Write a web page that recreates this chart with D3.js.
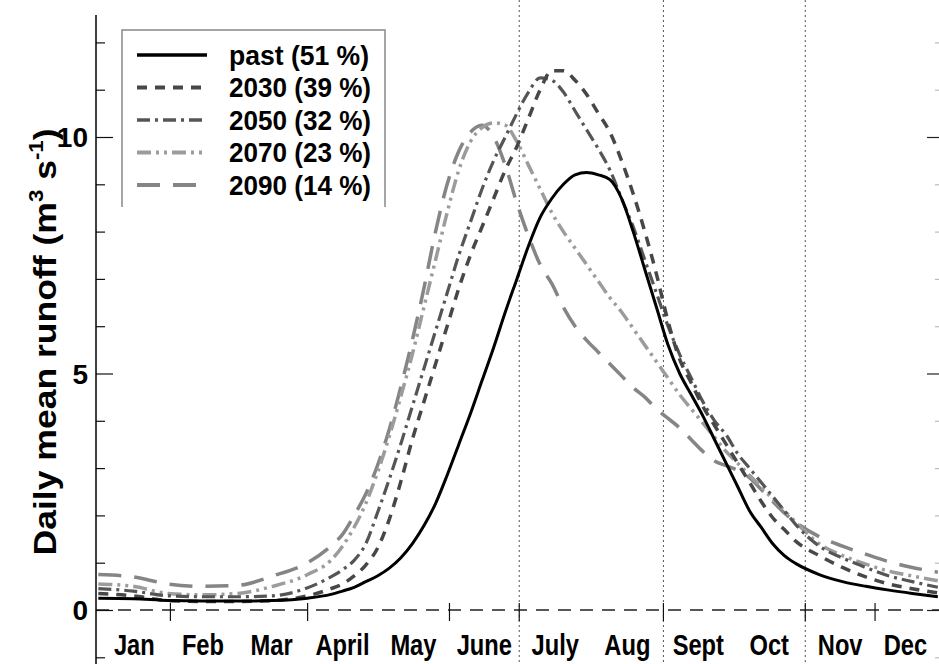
<!DOCTYPE html>
<html>
<head>
<meta charset="utf-8">
<script src="https://cdn.jsdelivr.net/npm/d3@7"></script>
<style>
body { margin: 0; background: #fff; }
text { font-family: "Liberation Sans", Arial, sans-serif; font-weight: bold; fill: #000; }
</style>
</head>
<body>
<script>
// day of year for every sample
var days = [0,15,30,45,60,75,90,100,105,110,115,120,125,130,135,140,145,150,155,160,165,170,175,180,185,190,195,200,205,210,215,220,225,230,235,240,245,250,255,260,265,270,275,280,285,290,295,300,310,320,330,340,350,361];

// daily mean runoff (m3 s-1)
var past = [0.25,0.24,0.2,0.19,0.19,0.2,0.25,0.33,0.4,0.48,0.6,0.72,0.88,1.1,1.4,1.78,2.25,2.85,3.5,4.15,4.85,5.55,6.3,7.0,7.7,8.3,8.7,9.0,9.2,9.25,9.2,9.1,8.7,8.0,7.2,6.4,5.6,5.0,4.55,4.1,3.6,3.1,2.6,2.1,1.75,1.4,1.15,0.98,0.75,0.6,0.5,0.42,0.35,0.28];
var s2030 = [0.35,0.3,0.2,0.18,0.18,0.2,0.3,0.45,0.55,0.72,0.95,1.3,1.9,2.7,3.6,4.4,5.2,6.0,6.8,7.5,8.1,8.7,9.3,9.8,10.4,11.0,11.4,11.4,11.2,10.9,10.5,10.1,9.5,8.8,8.0,7.1,6.1,5.3,4.8,4.3,3.9,3.5,3.1,2.7,2.3,1.95,1.7,1.45,1.15,0.9,0.7,0.55,0.45,0.36];
var s2050 = [0.45,0.4,0.3,0.28,0.28,0.3,0.47,0.7,0.85,1.05,1.4,2.05,2.75,3.5,4.3,5.1,5.9,6.7,7.5,8.2,8.9,9.5,10.0,10.5,10.95,11.25,11.2,10.95,10.55,10.15,9.75,9.3,8.7,8.1,7.4,6.7,6.0,5.4,4.9,4.4,4.0,3.7,3.3,3.0,2.7,2.4,2.1,1.8,1.35,1.1,0.9,0.72,0.6,0.48];
var s2070 = [0.55,0.5,0.35,0.32,0.35,0.5,0.75,1.05,1.35,1.75,2.25,2.9,3.65,4.5,5.4,6.4,7.4,8.4,9.3,9.9,10.2,10.3,10.25,9.9,9.4,8.9,8.4,8.0,7.65,7.3,6.95,6.6,6.3,5.95,5.6,5.25,4.9,4.55,4.25,3.95,3.65,3.35,3.1,2.85,2.6,2.35,2.1,1.85,1.4,1.15,0.97,0.82,0.72,0.62];
var s2090 = [0.75,0.7,0.55,0.5,0.52,0.72,1.0,1.35,1.6,2.0,2.45,3.05,3.8,4.7,5.7,6.8,8.0,9.0,9.7,10.1,10.25,10.0,9.4,8.6,7.9,7.3,6.9,6.4,6.0,5.7,5.45,5.2,4.95,4.7,4.5,4.25,4.05,3.85,3.6,3.35,3.15,3.05,2.95,2.8,2.55,2.3,2.05,1.85,1.55,1.35,1.18,1.02,0.9,0.8];

var legendNames = ['past (51 %)', '2030 (39 %)', '2050 (32 %)', '2070 (23 %)', '2090 (14 %)'];
var monthNames = ['Jan','Feb','Mar','April','May','June','July','Aug','Sept','Oct','Nov','Dec'];
var monthStarts = [0,31,59,90,120,151,181,212,243,273,304,334,365];
var tickDays = [31,90,151,181,243,304,334];
var seasonDays = [181,243,304];
var yTicks = d3.range(-1, 13);
var yLabels = [0, 5, 10];

var width = 939, height = 664;

var svg = d3.select('body')
    .append('svg')
    .attr('width', width)
    .attr('height', height);

var x = d3.scaleLinear().domain([-1, 361.5]).range([96, 939]);
var y = d3.scaleLinear().domain([0, 10]).range([610, 137]);

var styles = [
    {color: '#000', dash: null, w: 3},
    {color: '#474747', dash: '10,8', w: 3.5},
    {color: '#555', dash: '13,5,3,5', w: 3.2},
    {color: '#9c9c9c', dash: '14,5,3,5,3,5', w: 3.5},
    {color: '#858585', dash: '23,13', w: 3.5}
];
var series = [past, s2030, s2050, s2070, s2090];

// dotted season lines
svg.selectAll('line.season')
    .data(seasonDays)
    .enter().append('line')
    .attr('class', 'season')
    .attr('x1', d => x(d)).attr('x2', d => x(d))
    .attr('y1', 0).attr('y2', height)
    .attr('stroke', '#555')
    .attr('stroke-width', 1)
    .attr('stroke-dasharray', '2,3');

// dashed zero line
svg.append('line')
    .attr('x1', x(-1)).attr('x2', width)
    .attr('y1', y(0)).attr('y2', y(0))
    .attr('stroke', '#222')
    .attr('stroke-width', 1.3)
    .attr('stroke-dasharray', '13,9');

// ticks on zero line
svg.selectAll('line.xt')
    .data(tickDays)
    .enter().append('line')
    .attr('class', 'xt')
    .attr('x1', d => x(d)).attr('x2', d => x(d))
    .attr('y1', y(0) - 7).attr('y2', y(0) + 11)
    .attr('stroke', '#111')
    .attr('stroke-width', 1.2);

// left axis
var yAxis = d3.axisLeft(y).tickValues(yTicks).tickSizeInner(-8).tickSizeOuter(0).tickFormat('');
var ga = svg.append('g').attr('transform', 'translate(96,0)').call(yAxis);
ga.select('.domain').remove();
ga.selectAll('.tick line')
    .attr('x2', d => (d % 5 === 0 && d >= 0) ? 17 : 9)
    .attr('stroke', '#111')
    .attr('stroke-width', 1.2);
svg.append('line')
    .attr('x1', 96).attr('x2', 96)
    .attr('y1', 15).attr('y2', height)
    .attr('stroke', '#000').attr('stroke-width', 1.5);

// right axis, cut by the frame
var ra = svg.append('g').attr('transform', 'translate(940,0)').call(d3.axisRight(y).tickValues(yTicks).tickSizeInner(-6).tickSizeOuter(0).tickFormat(''));
ra.select('.domain').remove();
ra.selectAll('.tick line')
    .attr('x2', d => (d % 5 === 0 && d >= 0) ? -13 : -5)
    .attr('stroke', d => (d % 5 === 0 && d >= 0) ? '#222' : '#bbb')
    .attr('stroke-width', 1.2);

svg.selectAll('text.yl')
    .data(yLabels)
    .enter().append('text')
    .attr('class', 'yl')
    .attr('x', 88)
    .attr('y', d => y(d))
    .attr('dy', '0.36em')
    .attr('text-anchor', 'end')
    .style('font-size', '28px')
    .text(d => d);

// y title
var lbl = svg.append('text')
    .attr('transform', 'translate(56,342) rotate(-90)')
    .attr('text-anchor', 'middle')
    .style('font-size', '32px');
lbl.append('tspan').text('Daily mean runoff (m');
lbl.append('tspan').attr('dy', -13).style('font-size', '20px').text('3');
lbl.append('tspan').attr('dy', 13).text(' s');
lbl.append('tspan').attr('dy', -13).style('font-size', '20px').text('-1');
lbl.append('tspan').attr('dy', 13).text(')');
lbl.attr('textLength', 427).attr('lengthAdjust', 'spacingAndGlyphs');

// month labels, kept inside the right edge
svg.selectAll('text.month')
    .data(monthNames)
    .enter().append('text')
    .attr('class', 'month')
    .attr('x', (d, i) => x((monthStarts[i] + monthStarts[i + 1]) / 2))
    .attr('y', 655)
    .attr('text-anchor', 'middle')
    .style('font-size', '30px')
    .text(d => d)
    .each(function () {
        var nat = this.getComputedTextLength();
        var sel = d3.select(this);
        var cx = +sel.attr('x');
        if (cx + nat / 2 > width - 6) sel.attr('x', width - 6 - nat / 2);
        sel.attr('textLength', nat * 0.79).attr('lengthAdjust', 'spacingAndGlyphs');
    });

// curves
var line = d3.line()
    .x(d => x(d[0]))
    .y(d => y(d[1]))
    .curve(d3.curveMonotoneX);

// draw 2090 first, past last
for (var i = series.length - 1; i >= 0; i--) {
    var pts = days.map((d, j) => [d, series[i][j]]);
    svg.append('path')
        .datum(pts)
        .attr('d', line)
        .attr('fill', 'none')
        .attr('stroke', styles[i].color)
        .attr('stroke-width', styles[i].w)
        .attr('stroke-dasharray', styles[i].dash);
}

// legend
var lg = svg.append('g');
lg.append('rect')
    .attr('x', 122).attr('y', 30).attr('width', 263).attr('height', 177)
    .attr('fill', '#fff');
lg.append('path')
    .attr('d', 'M122,207V30H385V207')
    .attr('fill', 'none')
    .attr('stroke', '#888')
    .attr('stroke-width', 1.5);
var rowY = d3.scalePoint().domain(legendNames).range([55, 185]);
legendNames.forEach(function (name, i) {
    lg.append('line')
        .attr('x1', 137).attr('x2', 207)
        .attr('y1', rowY(name)).attr('y2', rowY(name))
        .attr('stroke', styles[i].color)
        .attr('stroke-width', styles[i].w + 0.5)
        .attr('stroke-dasharray', styles[i].dash);
    lg.append('text')
        .attr('x', 229)
        .attr('y', rowY(name))
        .attr('dy', '0.36em')
        .style('font-size', '27px')
        .attr('textLength', i === 0 ? 140 : 142)
        .attr('lengthAdjust', 'spacingAndGlyphs')
        .text(name);
});
</script>
</body>
</html>
